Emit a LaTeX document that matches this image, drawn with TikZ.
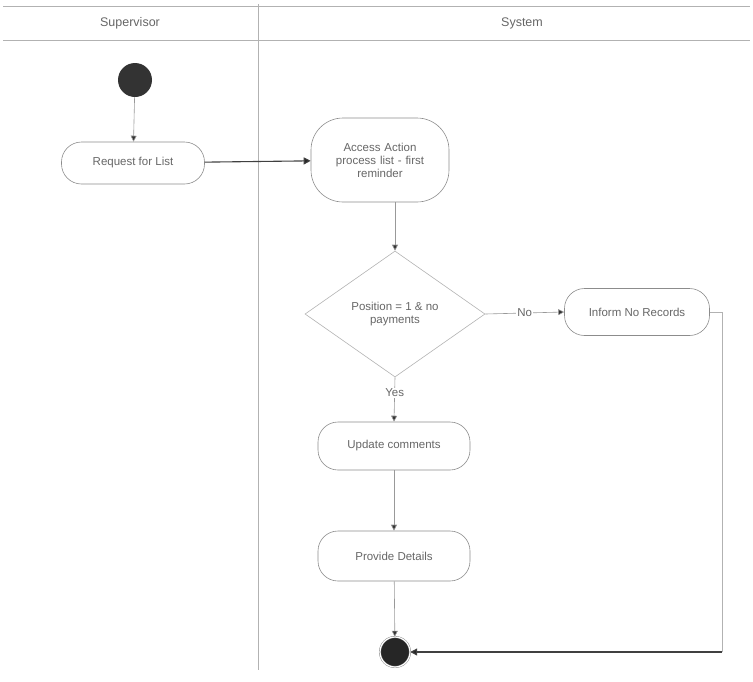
\documentclass[tikz,border=0pt]{standalone}
\usepackage{fontspec}
\setmainfont{Liberation Sans}
\usetikzlibrary{shapes.geometric,arrows.meta}
\begin{document}
\begin{tikzpicture}[x=1pt,y=-1pt,
  every node/.style={font=\fontsize{11.5}{13}\selectfont, text=black!60},
  lane/.style={draw=black!30, line width=0.6pt},
  action/.style={draw=black!45, line width=0.6pt, rounded corners=20pt, align=center, inner sep=4pt},
  decision/.style={draw=black!30, line width=0.6pt, diamond, aspect=1.45, align=center, inner sep=1pt},
  flow/.style={draw=black!40, line width=0.6pt, -{Triangle[length=6pt,width=6pt,fill=black!80]}},
  strongflow/.style={draw=black!75, line width=1.1pt, -{Triangle[length=7pt,width=7pt,fill=black!85]}},
  startdot/.style={circle, fill=black!80, minimum size=34pt, inner sep=0pt},
  enddot/.style={circle, fill=black!85, draw=black!50, double=white, double distance=1.2pt, minimum size=30pt, inner sep=0pt}
]
\useasboundingbox (0,0) rectangle (753,681);

% swimlane frame
\draw[lane] (3,6) -- (750,6);
\draw[lane] (3,40) -- (750,40);
\draw[lane] (258,4) -- (258,670);
\node[font=\fontsize{12.5}{14}\selectfont] (hsup) at (130,23) {Supervisor};
\node[font=\fontsize{12.5}{14}\selectfont] (hsys) at (522,23) {System};

% activities
\node[startdot] (start) at (135,80) {};
\node[action, minimum width=143pt, minimum height=42pt] (req) at (133,163) {Request for List};
\node[action, rounded corners=32pt, minimum width=138pt, minimum height=84pt, text width=108pt] (acc) at (380,160) {Access Action\\process list - first\\reminder};
\node[decision, minimum width=180pt, minimum height=126pt] (dec) at (395,314) {Position = 1 \& no\\payments};
\node[action, minimum width=145pt, minimum height=47pt] (inf) at (637,312) {Inform No Records};
\node[action, minimum width=152pt, minimum height=48pt] (upd) at (394,446) {Update comments};
\node[action, minimum width=152pt, minimum height=50pt] (prov) at (394,556) {Provide Details};
\node[enddot] (stop) at (395,652) {};
\coordinate (c1) at (722,312);
\coordinate (c2) at (722,652);

% connectors
\draw[flow] (start) -- (req);
\draw[strongflow] (req) -- (acc);
\draw[flow] (acc.south -| dec.north) -- (dec.north);
\draw[flow] (dec.east) -- node[fill=white, inner sep=1pt] (lno) {No} (inf.west);
\draw[flow] (dec.south) -- node[fill=white, inner sep=1pt, pos=0.35] (lyes) {Yes} (upd.north);
\draw[flow] (upd) -- (prov);
\draw[flow] (prov) -- (stop);
\draw[draw=black!30, line width=0.6pt] (inf.east) -- (c1) -- (c2);
\draw[strongflow] (c2) -- (stop);
\end{tikzpicture}
\end{document}
